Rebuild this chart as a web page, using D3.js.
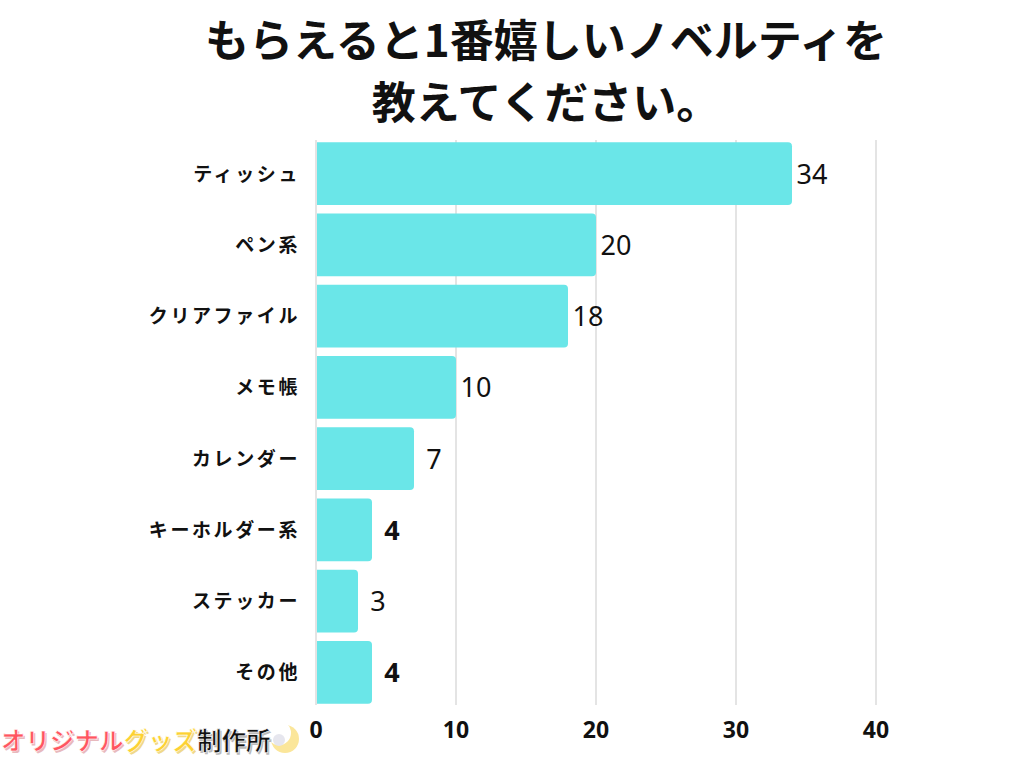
<!DOCTYPE html>
<html><head><meta charset="utf-8">
<script src="https://cdn.jsdelivr.net/npm/d3@7"></script>
<style>body{margin:0;background:#fff;} svg{display:block;}</style>
</head><body>
<svg id="c" width="1024" height="768"></svg>
<script>
const categories = ["ティッシュ","ペン系","クリアファイル","メモ帳","カレンダー","キーホルダー系","ステッカー","その他"];
const values = [34,20,18,10,7,4,3,4];
const xTicks = [0,10,20,30,40];
const titleLines = ["もらえると1番嬉しいノベルティを","教えてください。"];

const svg = d3.select("#c");
const jp = "'Noto Sans CJK JP', 'Noto Sans', sans-serif";
const x = d3.scaleLinear().domain([0,40]).range([316,876]);
const y = d3.scaleBand().domain(categories).range([138,708]).paddingInner(0.12).paddingOuter(0.06);

// title
svg.selectAll("text.title").data(titleLines).enter().append("text")
  .attr("x",546).attr("y",(d,i)=>57+i*62)
  .attr("text-anchor","middle").attr("font-family",jp).attr("font-weight",700)
  .attr("font-size",44).attr("fill","#111").text(d=>d);

// grid
svg.selectAll("line.grid").data(xTicks).enter().append("line")
  .attr("x1",d=>x(d)).attr("x2",d=>x(d)).attr("y1",140).attr("y2",705)
  .attr("stroke","#d2d2d2").attr("stroke-width",1.2);

// bars
svg.selectAll("path.bar").data(values).enter().append("path")
  .attr("fill","#6ae6e8")
  .attr("d",(d,i)=>{
    const x0=x(0)+1, x1=x(d), y0=y(categories[i]), h=y.bandwidth(), r=4;
    return `M${x0},${y0}H${x1-r}Q${x1},${y0} ${x1},${y0+r}V${y0+h-r}Q${x1},${y0+h} ${x1-r},${y0+h}H${x0}Z`;
  });

// value labels
svg.selectAll("text.val").data(values).enter().append("text")
  .attr("x",d=>x(d)+20).attr("y",(d,i)=>y(categories[i])+y.bandwidth()/2+10)
  .attr("text-anchor","middle").attr("font-family","'Noto Sans', 'Open Sans', sans-serif")
  .attr("font-size",27).attr("font-weight",d=>d===4?700:400).attr("fill","#111").text(d=>d);

// category labels
svg.selectAll("text.cat").data(categories).enter().append("text")
  .attr("x",300).attr("y",d=>y(d)+y.bandwidth()/2+7)
  .attr("text-anchor","end").attr("font-family",jp).attr("font-weight",700)
  .attr("font-size",19).attr("letter-spacing",2.6).attr("fill","#111").text(d=>d);

// x tick labels
svg.selectAll("text.tick").data(xTicks).enter().append("text")
  .attr("x",d=>x(d)).attr("y",738).attr("text-anchor","middle")
  .attr("font-family","'Noto Sans', 'Open Sans', sans-serif").attr("font-weight",700)
  .attr("font-size",23).attr("fill","#111").text(d=>d);

// logo
const defs = svg.append("defs");
const m = defs.append("mask").attr("id","moonMask");
m.append("rect").attr("x",260).attr("y",715).attr("width",50).attr("height",50).attr("fill","#fff");
m.append("circle").attr("cx",279).attr("cy",733).attr("r",12).attr("fill","#000");
svg.append("circle").attr("cx",285).attr("cy",739).attr("r",14).attr("fill","#fbe69a").attr("mask","url(#moonMask)");
svg.append("circle").attr("cx",279).attr("cy",740).attr("r",6).attr("fill","#e6e6ee");

function logoText(dx,dy,fills,stroke,sw){
  const t = svg.append("text").attr("x",1+dx).attr("y",750+dy)
    .attr("font-family",jp).attr("font-weight",700).attr("font-size",24.5);
  if(stroke) t.attr("stroke",stroke).attr("stroke-width",sw).attr("stroke-linejoin","round");
  t.append("tspan").attr("fill",fills[0]).text("オリジナル");
  t.append("tspan").attr("fill",fills[1]).text("グッズ");
  t.append("tspan").attr("fill",fills[2]).text("制作所");
}
logoText(1.5,1.5,["#e8b9bd","#f0d98a","#bbbbbb"],null,0);
logoText(0,0,["#ff5560","#fdd133","#111"],"#fff",0.6);
</script>
</body></html>
